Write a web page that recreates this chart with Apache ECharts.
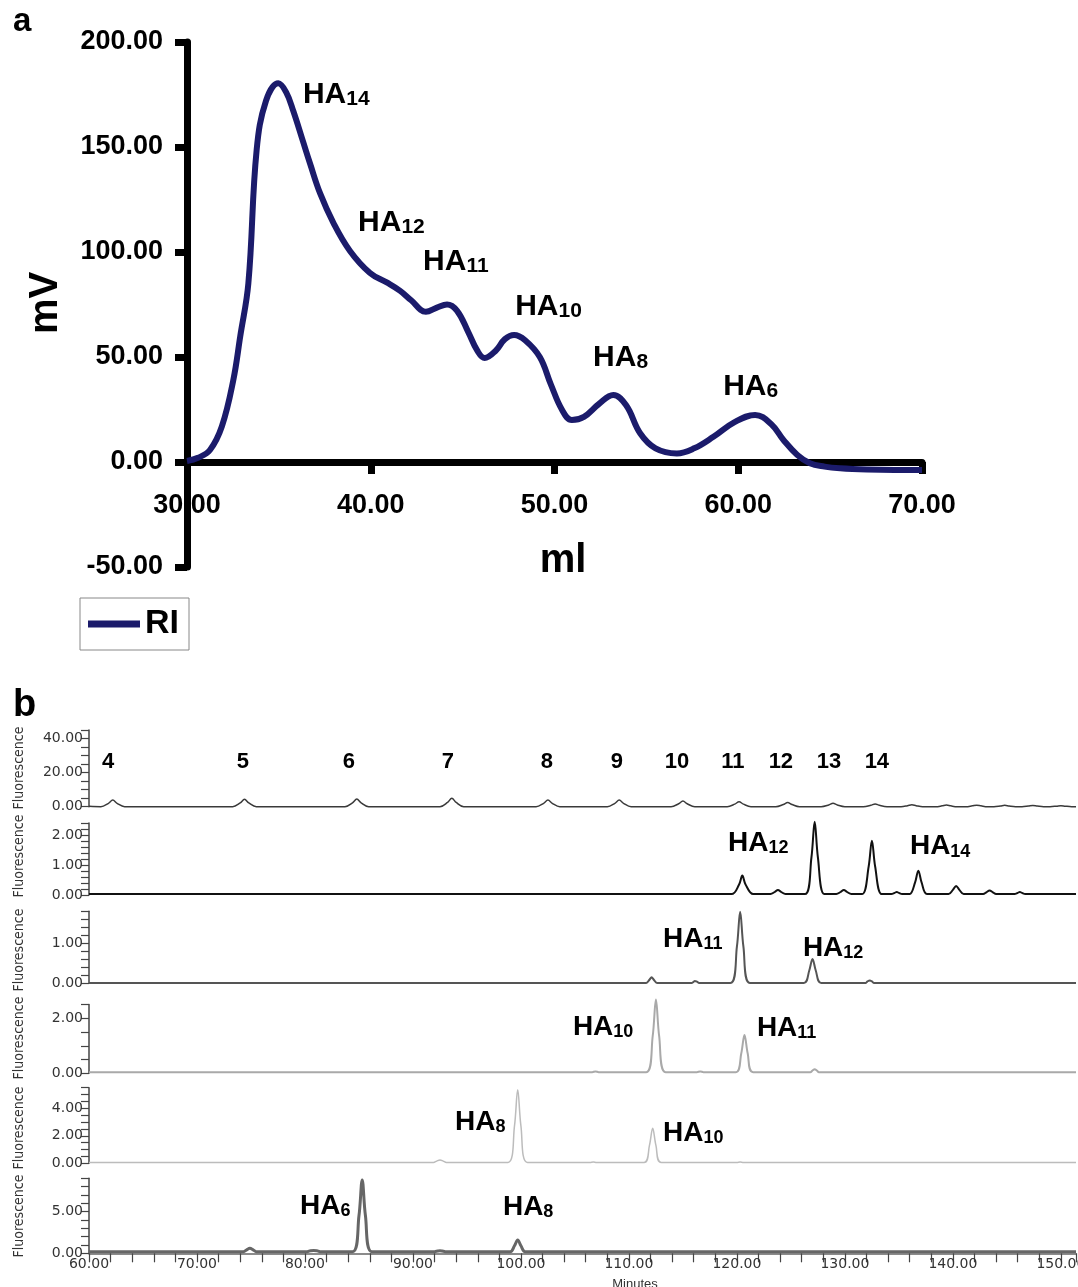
<!DOCTYPE html>
<html><head><meta charset="utf-8">
<script src="https://cdn.jsdelivr.net/npm/echarts@6/dist/echarts.min.js"></script>
<style>html,body{margin:0;padding:0;background:#fff}#c{width:1078px;height:1287px}</style>
</head><body><div id="c"></div>
<script>
// ---------- Panel a data (RI, mV vs ml) ----------
const aX = [30, 30.6, 31.25, 31.9, 32.52, 32.9, 33.34, 33.79, 34.3, 34.97, 35.4, 35.79, 36.3, 36.7, 37.24, 37.96, 38.87, 39.96, 40.87, 41.6, 42.2, 43.0, 43.6, 44.15, 44.7, 45.3, 45.8, 46.2, 46.8, 47.3, 47.8, 48.4, 49.2, 49.8, 50.4, 50.94, 51.6, 52.4, 53.2, 53.9, 54.66, 55.5, 56.66, 57.6, 58.65, 59.8, 60.92, 61.8, 62.46, 63.2, 63.9, 64.7, 65.55, 67, 68.5, 70];
const aY = [0.5, 2, 5.7, 17, 39, 60, 85.1, 148.6, 172, 180.3, 176, 167, 153, 142, 128, 114, 100.5, 90, 85.5, 81.5, 77, 71.5, 73.5, 75, 72, 62, 53, 49.5, 53, 58.5, 60.5, 58, 50, 37, 25, 20, 21.5, 27.5, 31.9, 27, 13.7, 6.5, 4.1, 6.5, 12, 19, 22.4, 18, 10.5, 3.5, -0.6, -2.2, -3, -3.6, -3.8, -3.8];
const aPeakLabels = [[36.31, 174.8, '14'], [39.31, 113.8, '12'], [42.85, 95.2, '11'], [47.86, 73.8, '10'], [52.1, 49.5, '8'], [59.18, 35.7, '6']];

// ---------- Panel b data (Fluorescence vs Minutes) ----------
const row1 = [[60,0.2],
[61.1,0],[61.8,2.0],[62.2,3.9],[62.6,2.0],[63.3,0],
[73.3,0],[74.0,2.2],[74.4,4.3],[74.8,2.2],[75.5,0],
[83.7,0],[84.4,2.3],[84.8,4.5],[85.2,2.3],[85.9,0],
[92.5,0],[93.2,2.5],[93.6,4.9],[94.0,2.5],[94.7,0],
[101.4,0],[102.1,2.0],[102.5,3.9],[102.9,2.0],[103.6,0],
[108.0,0],[108.7,2.0],[109.1,3.9],[109.5,2.0],[110.2,0],
[113.9,0],[114.6,1.7],[115.0,3.3],[115.4,1.7],[116.1,0],
[119.1,0],[119.8,1.5],[120.2,2.9],[120.6,1.5],[121.3,0],
[123.6,0],[124.3,1.3],[124.7,2.5],[125.1,1.3],[125.8,0],
[127.8,0],[128.5,1.0],[128.9,2.0],[129.3,1.0],[130.0,0],
[131.7,0],[132.4,0.8],[132.8,1.6],[133.2,0.8],[133.9,0],
[135.2,0],[135.8,0.6],[136.2,1.2],[136.6,0.6],[137.2,0],
[138.4,0],[139.0,0.5],[139.4,1.0],[139.8,0.5],[140.4,0],
[141.2,0],[141.8,0.5],[142.2,0.9],[142.6,0.5],[143.2,0],
[143.8,0],[144.4,0.4],[144.8,0.8],[145.2,0.4],[145.8,0],
[146.4,0],[147.0,0.4],[147.4,0.7],[147.8,0.4],[148.4,0],
[149.0,0],[149.6,0.3],[150.0,0.6],[150.4,0.3],[151.0,0],
[151.4,0]];
const row2 = [[60,0.03],[119.5,0.03],[120.2,0.35],[120.5,0.65],[120.8,0.35],[121.5,0.03],
[123.1,0.03],[123.5,0.1],[123.8,0.17],[124.1,0.1],[124.5,0.03],
[126.3,0.03],[126.9,1.25],[127.2,2.44],[127.5,1.25],[128.1,0.03],
[129.2,0.03],[129.6,0.1],[129.9,0.17],[130.2,0.1],[130.6,0.03],
[131.6,0.03],[132.2,0.95],[132.5,1.81],[132.8,0.95],[133.4,0.03],
[134.3,0.03],[134.6,0.07],[134.8,0.1],[135.0,0.07],[135.3,0.03],
[136.0,0.03],[136.5,0.42],[136.8,0.81],[137.1,0.42],[137.6,0.03],
[139.6,0.03],[140.0,0.17],[140.3,0.3],[140.6,0.17],[141.0,0.03],
[142.8,0.03],[143.1,0.09],[143.4,0.15],[143.7,0.09],[144.0,0.03],
[145.7,0.03],[146.0,0.07],[146.2,0.1],[146.4,0.07],[146.7,0.03],
[151.4,0.03]];
const row3 = [[60,0.01],[111.6,0.01],[111.9,0.09],[112.1,0.15],[112.3,0.09],[112.6,0.01],
[115.8,0.01],[116.0,0.04],[116.1,0.06],[116.3,0.04],[116.5,0.01],
[119.4,0.01],[120.0,0.92],[120.3,1.79],[120.6,0.92],[121.2,0.01],
[126.2,0.01],[126.7,0.32],[127.0,0.61],[127.3,0.32],[127.8,0.01],
[131.9,0.01],[132.1,0.05],[132.3,0.07],[132.5,0.05],[132.7,0.01],
[151.4,0.01]];
const row4 = [[60,0.04],[106.6,0.04],[106.9,0.07],[107.2,0.04],
[111.6,0.04],[112.2,1.35],[112.5,2.68],[112.8,1.35],[113.4,0.04],
[116.3,0.04],[116.6,0.07],[116.9,0.04],
[119.9,0.04],[120.4,0.72],[120.7,1.39],[121.0,0.72],[121.5,0.04],
[126.8,0.04],[127.0,0.1],[127.2,0.15],[127.4,0.1],[127.6,0.04],
[151.4,0.04]];
const row5 = [[60,0.06],[91.9,0.06],[92.2,0.16],[92.5,0.24],[92.8,0.16],[93.1,0.06],
[98.8,0.06],[99.4,2.7],[99.7,5.35],[100.0,2.7],[100.6,0.06],
[106.4,0.06],[106.7,0.1],[107.0,0.06],
[111.4,0.06],[111.9,1.3],[112.2,2.55],[112.5,1.3],[113.0,0.06],
[120.0,0.06],[120.3,0.1],[120.6,0.06],
[151.4,0.06]];
const row6 = [[60,0.2],[74.3,0.2],[74.6,0.42],[74.9,0.6],[75.2,0.42],[75.5,0.2],
[80.2,0.2],[80.5,0.3],[80.8,0.35],[81.1,0.3],[81.4,0.2],
[84.4,0.2],[85.0,4.5],[85.3,8.8],[85.6,4.5],[86.2,0.2],
[92.0,0.2],[92.3,0.27],[92.5,0.3],[92.7,0.27],[93.0,0.2],
[99.0,0.2],[99.4,0.9],[99.7,1.6],[100.0,0.9],[100.4,0.2],
[151.4,0.2]];

const row1Numbers = ['4','5','6','7','8','9','10','11','12','13','14'];
const row1NumberX = [61.76, 74.26, 84.07, 93.24, 102.41, 108.89, 114.44, 119.63, 124.07, 128.52, 132.96];
const row1NumberY = 26.4;
const row2Labels = [[119.17, 1.72, '12'], [136.02, 1.61, '14']];
const row3Labels = [[113.15, 1.11, '11'], [126.11, 0.88, '12']];
const row4Labels = [[104.81, 1.67, '10'], [121.85, 1.65, '11']];
const row5Labels = [[93.89, 3.0, '8'], [113.15, 2.2, '10']];
const row6Labels = [[79.54, 5.68, '6'], [98.33, 5.56, '8']];

// axis ranges
const rowMax = [45, 2.4, 1.8, 2.5, 5.5, 9];
const rowTickStep = [5, 0.2, 0.2, 0.5, 0.5, 1];
const rowLabelStep = [20, 1, 1, 2, 2, 5];

// ---------- layout / style ----------
const rowTops = [730, 823, 911.3, 1004.55, 1087.7, 1178.3];
const rowHeights = [76.7, 72, 72, 68.75, 75.6, 75];
const rowColors = ['#3a3a3a', '#111111', '#555555', '#a9a9a9', '#bcbcbc', '#666666'];
const rowWidths = [1.5, 2, 2, 2, 1.5, 3];
const fluorY = [768, 856, 950, 1038, 1128, 1216];
const SANS = '"Liberation Sans", Arial, Helvetica, sans-serif';
const TICKFONT = '"DejaVu Sans", sans-serif';
const NAVY = '#1b1b6b';

const chart = echarts.init(document.getElementById('c'), null, {renderer: 'canvas', width: 1078, height: 1287});

function stepFmt(step) {
  return function (v) {
    const r = v / step;
    return Math.abs(r - Math.round(r)) < 1e-6 ? v.toFixed(2) : '';
  };
}

const richA = {
  m: {fontFamily: SANS, fontWeight: 'bold', fontSize: 30, lineHeight: 30, color: '#000', opacity: 1},
  s: {fontFamily: SANS, fontWeight: 'bold', fontSize: 21, lineHeight: 11, verticalAlign: 'bottom', color: '#000', opacity: 1}
};
const richB = {
  m: {fontFamily: SANS, fontWeight: 'bold', fontSize: 28, lineHeight: 28, color: '#000', opacity: 1},
  s: {fontFamily: SANS, fontWeight: 'bold', fontSize: 18, lineHeight: 20, verticalAlign: 'bottom', color: '#000', opacity: 1}
};

function haSeries(gi, items, rich) {
  return {
    type: 'scatter', xAxisIndex: gi, yAxisIndex: gi, symbolSize: 0, silent: true, z: 5,
    itemStyle: {color: '#000', opacity: 1},
    data: items.map(d => ({value: [d[0], d[1]], name: d[2]})),
    label: {show: true, position: 'right', distance: 0, color: '#000', opacity: 1,
      formatter: p => '{m|HA}{s|' + p.name + '}', rich: rich}
  };
}

const grids = [{left: 187, right: 156, top: 42, height: 525, containLabel: false, outerBoundsMode: 'none'}];
const xAxes = [{
  type: 'value', gridIndex: 0, min: 30, max: 70, interval: 10, position: 'bottom', offset: -105,
  axisLine: {show: true, onZero: false, lineStyle: {color: '#000', width: 7}},
  axisTick: {show: true, length: 12, lineStyle: {color: '#000', width: 7}},
  axisLabel: {show: true, margin: 30, formatter: v => v.toFixed(2), fontFamily: SANS, fontWeight: 'bold', fontSize: 27, color: '#000'},
  splitLine: {show: false}
}];
const yAxes = [{
  type: 'value', gridIndex: 0, min: -50, max: 200, interval: 50,
  axisLine: {show: true, onZero: false, lineStyle: {color: '#000', width: 7}},
  axisTick: {show: true, length: 12, lineStyle: {color: '#000', width: 7}},
  axisLabel: {show: true, margin: 24, formatter: v => v.toFixed(2), fontFamily: SANS, fontWeight: 'bold', fontSize: 27, color: '#000'},
  splitLine: {show: false}
}];
const rowData = [row1, row2, row3, row4, row5, row6];
const series = [
  {name: 'RI', type: 'line', xAxisIndex: 0, yAxisIndex: 0, data: aX.map((x, i) => [x, aY[i]]),
   smooth: 0.4, showSymbol: false, symbol: 'none', lineStyle: {color: NAVY, width: 6}, itemStyle: {color: NAVY}, z: 3},
  haSeries(0, aPeakLabels, richA)
];

for (let i = 0; i < 6; i++) {
  const gi = i + 1;
  const last = i === 5;
  grids.push({left: 89, right: 2, top: rowTops[i], height: rowHeights[i], containLabel: false, outerBoundsMode: 'none'});
  xAxes.push({
    type: 'value', gridIndex: gi, min: 60, max: 151.4, interval: 2, show: last,
    axisLine: {show: last, onZero: false, lineStyle: {color: '#666', width: 1.5}},
    axisTick: {show: last, length: 9, lineStyle: {color: '#444', width: 1.2}},
    axisLabel: {show: last, margin: 4, formatter: stepFmt(10), fontFamily: TICKFONT, fontSize: 14, color: '#333'},
    splitLine: {show: false}
  });
  yAxes.push({
    type: 'value', gridIndex: gi, min: 0, max: rowMax[i], interval: rowTickStep[i],
    axisLine: {show: true, onZero: false, lineStyle: {color: '#444', width: 1.5}},
    axisTick: {show: true, length: 8, lineStyle: {color: '#444', width: 1.2}},
    axisLabel: {show: true, margin: 6, formatter: stepFmt(rowLabelStep[i]), fontFamily: TICKFONT, fontSize: 14, color: '#333'},
    splitLine: {show: false}
  });
  series.push({type: 'line', xAxisIndex: gi, yAxisIndex: gi, data: rowData[i], smooth: 0.35,
    showSymbol: false, symbol: 'none', clip: false, lineStyle: {color: rowColors[i], width: rowWidths[i]}, z: 2});
}

series.push({
  type: 'scatter', xAxisIndex: 1, yAxisIndex: 1, symbolSize: 0, silent: true, z: 5,
  itemStyle: {color: '#000', opacity: 1},
  data: row1NumberX.map((x, i) => ({value: [x, row1NumberY], name: row1Numbers[i]})),
  label: {show: true, position: 'inside', color: '#000', opacity: 1, textBorderWidth: 0, formatter: p => p.name,
    fontFamily: SANS, fontWeight: 'bold', fontSize: 22}
});
[row2Labels, row3Labels, row4Labels, row5Labels, row6Labels].forEach((lab, k) => {
  series.push(haSeries(k + 2, lab, richB));
});

const graphics = [
  {type: 'text', x: 13, y: 22, style: {text: 'a', fill: '#000', font: 'bold 33px ' + SANS, align: 'left', verticalAlign: 'middle'}},
  {type: 'text', x: 13, y: 706, style: {text: 'b', fill: '#000', font: 'bold 38px ' + SANS, align: 'left', verticalAlign: 'middle'}},
  {type: 'text', x: 46, y: 303, rotation: Math.PI / 2, style: {text: 'mV', fill: '#000', font: 'bold 40px ' + SANS, align: 'center', verticalAlign: 'middle'}},
  {type: 'text', x: 563, y: 561, style: {text: 'ml', fill: '#000', font: 'bold 40px ' + SANS, align: 'center', verticalAlign: 'middle'}},
  {type: 'text', x: 635, y: 1284, style: {text: 'Minutes', fill: '#333', font: '13px ' + SANS, align: 'center', verticalAlign: 'middle'}}
];
fluorY.forEach(y => graphics.push({type: 'text', x: 19, y: y, rotation: Math.PI / 2,
  style: {text: 'Fluorescence', fill: '#333', font: '14px "Liberation Sans Narrow", "DejaVu Sans Condensed", sans-serif', align: 'center', verticalAlign: 'middle'}}));

chart.setOption({
  animation: false,
  backgroundColor: '#fff',
  grid: grids,
  xAxis: xAxes,
  yAxis: yAxes,
  legend: {
    data: ['RI'], left: 80, top: 598, orient: 'horizontal', icon: 'rect', itemWidth: 52, itemHeight: 7,
    padding: [9, 10, 9, 8], borderColor: '#888', borderWidth: 1, selectedMode: false,
    textStyle: {fontFamily: SANS, fontWeight: 'bold', fontSize: 34, color: '#000'}
  },
  series: series,
  graphic: graphics
});
</script>
</body></html>
